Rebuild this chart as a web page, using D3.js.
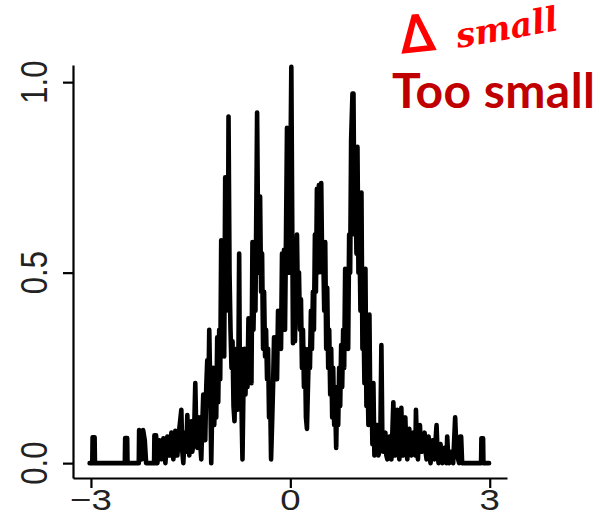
<!DOCTYPE html>
<html>
<head>
<meta charset="utf-8">
<script src="https://cdn.jsdelivr.net/npm/d3@7"></script>
<style>
  body { margin: 0; background: #fff; }
  svg { display: block; }
</style>
</head>
<body>
<svg id="chart" width="600" height="516"></svg>
<script>
/* Noisy density-like trace, as [x, density] pairs */
const densityPoints = [
  [-3.02,0],[-2.98,0],[-2.975,0.068],[-2.945,0.068],[-2.94,0],
  [-2.49,0],[-2.485,0.066],[-2.455,0.066],[-2.45,0],
  [-2.28,0],[-2.275,0.087],[-2.25,0.08],[-2.235,0.01],[-2.215,0.087],[-2.19,0.06],[-2.17,0],
  [-2.05,0],[-2.045,0.073],[-2.02,0.073],[-2.0,0],
  [-1.97,0.06],[-1.94,0.01],[-1.91,0.065],[-1.88,0],[-1.85,0.07],[-1.82,0.02],[-1.79,0.08],
  [-1.76,0.01],[-1.73,0.085],[-1.70,0.02],[-1.67,0.09],[-1.64,0.14],[-1.625,0.03],[-1.61,0],
  [-1.595,0.06],[-1.58,0.08],[-1.565,0.03],[-1.55,0.126],[-1.535,0.05],[-1.52,0.02],
  [-1.505,0.08],[-1.49,0.11],[-1.475,0.03],[-1.46,0.05],[-1.445,0.1],[-1.43,0.21],
  [-1.415,0.08],[-1.40,0.04],[-1.385,0.1],[-1.37,0.12],[-1.355,0.05],[-1.34,0.01],
  [-1.325,0.1],[-1.31,0.18],[-1.295,0.1],[-1.28,0.06],[-1.265,0.2],[-1.25,0.27],
  [-1.235,0.15],[-1.22,0.35],[-1.205,0.2],
  [-1.19,0],[-1.175,0.15],[-1.16,0.25],[-1.145,0.1],[-1.13,0.2],[-1.115,0.12],[-1.10,0.33],
  [-1.085,0.16],[-1.07,0.35],[-1.055,0.22],[-1.04,0.585],[-1.025,0.3],[-1.01,0.45],
  [-0.995,0.28],[-0.98,0.75],[-0.965,0.4],[-0.95,0.6],[-0.94,0.42],[-0.93,0.91],
  [-0.915,0.5],[-0.90,0.35],[-0.885,0.25],[-0.87,0.32],[-0.855,0.15],[-0.84,0.11],
  [-0.825,0.25],[-0.81,0.3],[-0.795,0.14],[-0.78,0.3],[-0.77,0.55],[-0.76,0.25],
  [-0.745,0.3],[-0.73,0.1],[-0.72,0.01],[-0.705,0.2],[-0.69,0.3],[-0.675,0.18],
  [-0.66,0.29],[-0.645,0.2],[-0.63,0.38],[-0.615,0.21],[-0.60,0.35],[-0.585,0.21],
  [-0.57,0.58],[-0.555,0.35],[-0.54,0.5],[-0.525,0.4],[-0.51,0.70],[-0.50,0.92],
  [-0.485,0.6],[-0.47,0.5],[-0.455,0.7],[-0.44,0.45],[-0.425,0.55],[-0.41,0.3],
  [-0.395,0.45],[-0.38,0.28],[-0.365,0.35],[-0.35,0.22],[-0.335,0.3],[-0.32,0.12],
  [-0.305,0.2],[-0.29,0.01],[-0.275,0.1],[-0.26,0.2],[-0.245,0.33],[-0.23,0.25],
  [-0.215,0.33],[-0.20,0.22],[-0.185,0.4],[-0.17,0.3],[-0.155,0.4],[-0.14,0.3],
  [-0.125,0.55],[-0.11,0.4],[-0.095,0.56],[-0.08,0.35],[-0.065,0.6],[-0.05,0.88],
  [-0.035,0.6],[-0.02,0.5],[0.0,0.75],[0.015,1.04],[0.03,0.585],[0.04,0.315],
  [0.055,0.45],[0.07,0.32],[0.085,0.5],[0.10,0.6],[0.115,0.4],[0.13,0.5],[0.145,0.35],
  [0.16,0.43],[0.175,0.25],[0.19,0.35],[0.205,0.2],[0.22,0.3],[0.235,0.12],[0.25,0.09],
  [0.265,0.2],[0.28,0.3],[0.295,0.25],[0.31,0.4],[0.325,0.3],[0.34,0.45],[0.355,0.35],
  [0.37,0.6],[0.385,0.45],[0.40,0.72],[0.415,0.5],[0.43,0.73],[0.445,0.55],[0.465,0.735],
  [0.48,0.5],[0.495,0.56],[0.51,0.4],[0.525,0.58],[0.54,0.3],[0.555,0.46],[0.57,0.25],
  [0.585,0.35],[0.60,0.18],[0.615,0.3],[0.63,0.12],[0.645,0.25],[0.66,0.1],[0.675,0.15],
  [0.69,0.04],[0.705,0.2],[0.72,0.1],[0.735,0.25],[0.75,0.15],[0.765,0.31],[0.78,0.2],
  [0.795,0.35],[0.81,0.25],[0.825,0.51],[0.84,0.35],[0.855,0.45],[0.87,0.3],[0.885,0.6],
  [0.90,0.5],[0.915,0.85],[0.935,0.97],[0.95,0.97],[0.965,0.6],[0.98,0.75],[0.995,0.55],
  [1.01,0.83],[1.025,0.5],[1.04,0.6],[1.055,0.4],[1.07,0.71],[1.085,0.3],[1.10,0.4],
  [1.115,0.21],[1.13,0.51],[1.145,0.15],[1.16,0.25],[1.175,0.1],[1.19,0.39],[1.205,0.1],
  [1.22,0.2],[1.235,0.05],[1.25,0.21],[1.265,0.02],[1.28,0.1],
  [1.31,0.1],[1.325,0.02],[1.34,0.03],[1.355,0.08],[1.37,0.31],[1.385,0.06],[1.40,0.03],
  [1.415,0.07],[1.43,0.08],[1.445,0.02],[1.46,0.01],[1.475,0.06],[1.49,0.07],[1.505,0.02],
  [1.52,0.01],[1.535,0.08],[1.55,0.16],[1.565,0.05],[1.58,0.02],[1.595,0.1],[1.61,0.14],
  [1.625,0.04],[1.64,0.01],[1.655,0.09],[1.67,0.145],[1.685,0.05],[1.70,0.02],[1.715,0.08],
  [1.73,0.12],[1.745,0.04],[1.76,0.01],[1.775,0.07],[1.79,0.09],[1.805,0.03],[1.82,0.02],
  [1.835,0.06],[1.85,0.08],[1.865,0.03],[1.88,0.02],[1.89,0.14],[1.905,0.05],[1.92,0.01],
  [1.935,0.07],[1.95,0.1],[1.965,0.04],[1.98,0.03],[2.0,0.06],[2.02,0.08],[2.035,0.03],
  [2.05,0.01],[2.065,0.05],[2.08,0.07],[2.095,0.02],[2.11,0],[2.125,0.04],[2.14,0.06],
  [2.155,0.02],[2.17,0.01],[2.185,0.06],[2.20,0.1],[2.215,0.03],[2.23,0],[2.245,0.04],
  [2.26,0.05],[2.275,0.01],[2.29,0],[2.305,0.03],[2.32,0.04],[2.335,0.01],[2.35,0],
  [2.36,0.07],[2.375,0.02],[2.39,0],[2.42,0.03],[2.45,0],[2.465,0.06],[2.48,0.12],
  [2.495,0.05],[2.51,0.02],[2.54,0],[2.555,0.07],[2.57,0.07],[2.585,0],[2.60,0],
  [2.87,0],[2.875,0.065],[2.90,0.065],[2.905,0],[2.99,0]
];
const xTicks = [-3, 0, 3];
const yTicks = [0, 0.5, 1];
const noteLabel = 'Too small';
const scribbleLabel = 'small';

const svg = d3.select('#chart');
svg.append('rect').attr('width', 600).attr('height', 516).attr('fill', '#fff');

const x = d3.scaleLinear().domain([-3.27, 3.26]).range([73, 507]);
const y = d3.scaleLinear().domain([-0.039, 1.045]).range([478, 65]);

// the trace
svg.append('path')
    .datum(densityPoints)
    .attr('fill', 'none')
    .attr('stroke', '#000')
    .attr('stroke-width', 4.6)
    .attr('stroke-linejoin', 'round')
    .attr('stroke-linecap', 'round')
    .attr('d', d3.line().x(d => x(d[0])).y(d => y(d[1])));

// L-shaped axes, labels drawn separately (the picture is stretched sideways)
const yAxis = svg.append('g')
    .attr('transform', 'translate(73,0)')
    .call(d3.axisLeft(y).tickValues(yTicks).tickSize(10).tickSizeOuter(0).tickFormat(''));
const xAxis = svg.append('g')
    .attr('transform', 'translate(0,478)')
    .call(d3.axisBottom(x).tickValues(xTicks).tickSize(10).tickSizeOuter(0).tickFormat(''));
[yAxis, xAxis].forEach(g => {
    g.select('.domain').attr('stroke', '#000').attr('stroke-width', 2.2);
    g.selectAll('.tick line').attr('stroke', '#000').attr('stroke-width', 2.2);
});

const labelFont = '"Liberation Sans", Arial, sans-serif';
svg.selectAll('.ylab')
    .data(yTicks)
    .join('text')
    .attr('class', 'ylab')
    .attr('transform', d => `translate(47,${y(d)}) scale(1.22,1) rotate(-90)`)
    .attr('text-anchor', 'middle')
    .attr('font-family', labelFont)
    .attr('font-size', 31)
    .attr('fill', '#222')
    .text(d3.format('.1f'));

svg.selectAll('.xlab')
    .data(xTicks)
    .join('text')
    .attr('class', 'xlab')
    .attr('transform', d => `translate(${x(d)},510) scale(1.22,1)`)
    .attr('text-anchor', 'middle')
    .attr('font-family', labelFont)
    .attr('font-size', 30)
    .attr('fill', '#222')
    .text(d => d < 0 ? '\u2212' + Math.abs(d) : String(d));

// annotations
svg.append('text')
    .attr('x', 392).attr('y', 108)
    .attr('font-family', 'Lato, "Open Sans", sans-serif')
    .attr('font-weight', 'bold')
    .attr('font-size', 48)
    .attr('fill', '#c00000')
    .attr('textLength', 203)
    .text(noteLabel);

svg.append('text')
    .attr('transform', 'translate(402,53) rotate(-6)')
    .attr('font-family', '"DejaVu Sans", sans-serif')
    .attr('font-size', 50)
    .attr('fill', '#f00')
    .attr('stroke', '#f00')
    .attr('stroke-width', 1.5)
    .text('\u0394');

svg.append('text')
    .attr('transform', 'translate(458,48) rotate(-10)')
    .attr('font-family', '"DejaVu Serif", serif')
    .attr('font-style', 'italic')
    .attr('font-weight', 'bold')
    .attr('font-size', 34)
    .attr('fill', '#f00')
    .text(scribbleLabel);
</script>
</body>
</html>
